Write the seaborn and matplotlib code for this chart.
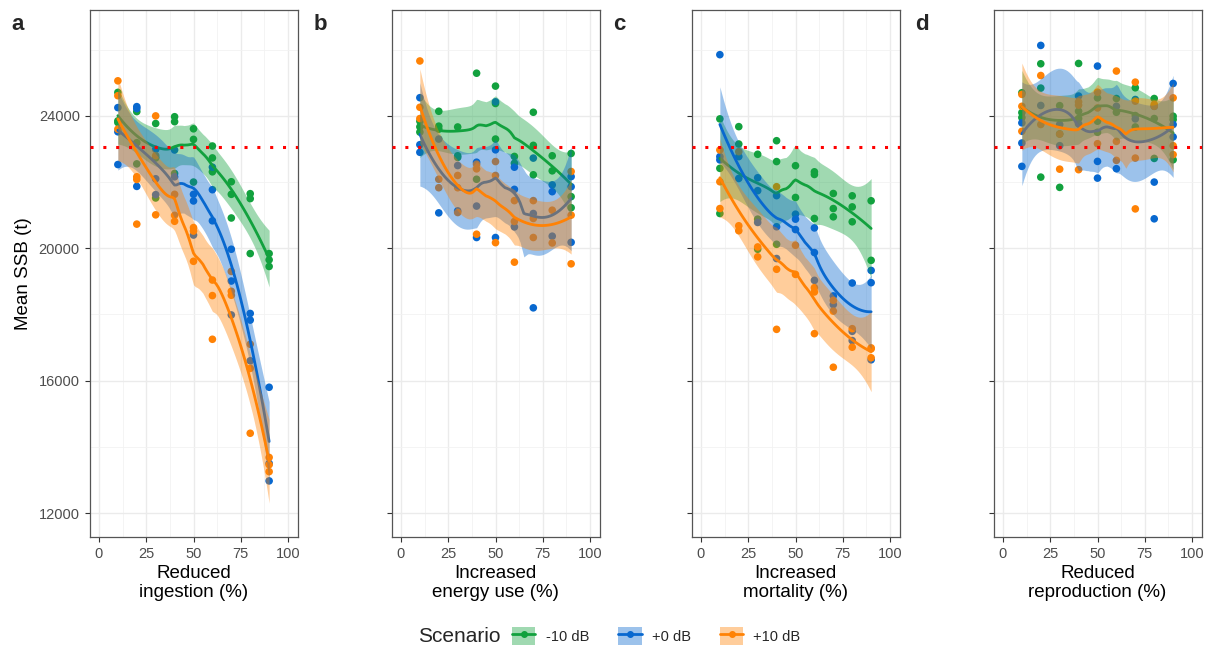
import numpy as np
import pandas as pd
import matplotlib
matplotlib.use("Agg")
import matplotlib.pyplot as plt
import seaborn as sns
from matplotlib.lines import Line2D
from matplotlib.patches import Patch

# 数据：每个面板 3 个情景，x = 10..90，每个 x 有若干重复
pct = [10, 20, 30, 40, 50, 60, 70, 80, 90]
scenarios = ["-10 dB", "+0 dB", "+10 dB"]
colors = ["#12A13E", "#0868CF", "#FF8205"]
ssb_ref = 23070

ing_m10 = [[24710, 23850, 23800], [24130, 23190, 22550], [23770, 22730, 21520], [23975, 23825, 22260],
           [23610, 23290, 22000], [23090, 22730, 22310], [22010, 21630, 20915], [21650, 21500, 19840],
           [19840, 19650, 19450]]
ing_p0 = [[24250, 23520, 22530], [24280, 24220, 21870], [22990, 22100, 21620], [22970, 22160],
          [21630, 21430, 20400], [22450, 21770, 20830], [19970, 19010, 17985], [18030, 17830, 16600],
          [15800, 13500, 12970]]
ing_p10 = [[25060, 24610, 23600], [22160, 22080, 20730], [24000, 22800, 21010], [21630, 20995, 20815],
           [20625, 20520, 19606], [19040, 18570, 17250], [19300, 18700, 18580], [17100, 16370, 14410],
           [13680, 13460, 13250]]

ene_m10 = [[23840, 23670, 23510], [24140, 23690, 23600], [23665, 22795, 22745], [25290, 22085],
           [24900, 24375, 23300], [22775, 22570], [24110, 23110, 22220], [22795, 22340],
           [22865, 21560, 21225]]
ene_p0 = [[24550, 23130, 22900], [23300, 21070], [22500, 21130], [22600, 21275, 20325],
          [24425, 22975, 20325], [22450, 21780, 20645], [22725, 21050, 18200], [21915, 21710, 20365],
          [22165, 21860, 20180]]
ene_p10 = [[25660, 24260, 23920], [22085, 21830], [22200, 21830, 21080], [22540, 22400, 20425],
           [22620, 22200, 20170], [21440, 20810, 19580], [21440, 20900, 20325], [21150, 20160],
           [22320, 21000, 19530]]

mor_m10 = [[23910, 22415, 21050], [23675, 23150], [22840, 20880, 19970], [23250, 22620, 20120],
           [22495, 21535], [22310, 22230, 20900], [21655, 21200, 20950], [21585, 21250, 20800],
           [21435, 19635]]
mor_p0 = [[25850, 22770, 22670], [22770, 22110], [22130, 21740, 20780], [21590, 20650, 19690],
          [21030, 20880, 20565], [20615, 19870, 19030], [18560, 18300], [18950, 17490, 17210],
          [19330, 18960, 16630]]
mor_p10 = [[22970, 22010, 21200], [22920, 20680, 20530], [20040, 19740], [21860, 19365, 17550],
           [20090, 19210], [18810, 18680, 17420], [18425, 18100, 16405], [17570, 17010],
           [16990, 16960, 16690]]

rep_m10 = [[24700, 24100, 23950], [25575, 24840, 22150], [24310, 23455, 21840], [25585, 24140, 23920],
           [24545, 23840, 23505], [24525, 24110], [24850, 24010, 23665], [24525, 23920, 22715],
           [23990, 23890, 22675]]
rep_p0 = [[23790, 23180, 22475], [26130, 24315], [23740, 23100], [24600, 23760],
          [25505, 22625, 22120], [24290, 22405], [24495, 23910], [24290, 22000, 20890],
          [24980, 23740, 23365]]
rep_p10 = [[24650, 24290, 23535], [25220, 23740], [22390, 23450], [24425, 24325, 22375],
           [24715, 24240, 23160], [25355, 23230, 22655], [25020, 24445, 22725, 21190], [24345, 24290],
           [24545, 23100, 22830]]

panels = [
    ("a", "Reduced\ningestion (%)", [ing_m10, ing_p0, ing_p10]),
    ("b", "Increased\nenergy use (%)", [ene_m10, ene_p0, ene_p10]),
    ("c", "Increased\nmortality (%)", [mor_m10, mor_p0, mor_p10]),
    ("d", "Reduced\nreproduction (%)", [rep_m10, rep_p0, rep_p10]),
]


def to_long(groups):
    rows = []
    for sc, grp in zip(scenarios, groups):
        for x, vals in zip(pct, grp):
            for v in vals:
                rows.append((sc, x, v))
    return pd.DataFrame(rows, columns=["scenario", "pct", "ssb"])


def loess(x, y, xs, span=0.75):
    # 局部二次回归 (类似 R loess)，返回拟合值和标准误
    x = np.asarray(x, float)
    y = np.asarray(y, float)
    n = len(x)
    q = int(np.floor(n * span))

    def smat(pts):
        L = np.zeros((len(pts), n))
        for i, x0 in enumerate(pts):
            d = np.abs(x - x0)
            h = np.sort(d)[q - 1] * 1.05
            w = np.clip(1 - (d / h) ** 3, 0, None) ** 3
            X = np.column_stack([np.ones(n), x - x0, (x - x0) ** 2])
            XtW = X.T * w
            L[i] = (np.linalg.pinv(XtW @ X) @ XtW)[0]
        return L

    Ld = smat(x)
    R = np.eye(n) - Ld
    d1 = np.trace(R.T @ R)
    sigma = np.sqrt(np.sum((R @ y) ** 2) / d1)
    Ls = smat(xs)
    return Ls @ y, sigma * np.sqrt(np.sum(Ls ** 2, axis=1))


sns.set_style("white")
plt.rcParams["font.family"] = ["Liberation Sans", "DejaVu Sans"]

fig = plt.figure(figsize=(12.11, 6.5), dpi=100)
lefts = [89.5, 391.5, 691.5, 993.5]
xs = np.linspace(10, 90, 81)

for k, (letter, xlabel, groups) in enumerate(panels):
    ax = fig.add_axes([lefts[k] / 1211, 1 - 537 / 650, 208 / 1211, 527 / 650])
    df = to_long(groups)

    sns.scatterplot(data=df, x="pct", y="ssb", hue="scenario", palette=colors,
                    hue_order=scenarios, s=30, linewidth=0, legend=False, ax=ax, zorder=2)

    for j, sc in enumerate(scenarios):
        sub = df[df["scenario"] == sc]
        fit, se = loess(sub["pct"], sub["ssb"], xs)
        ax.fill_between(xs, fit - 2.2 * se, fit + 2.2 * se, color=colors[j], alpha=0.4,
                        linewidth=0, zorder=3 + 2 * j)
        sm = pd.DataFrame({"pct": xs, "ssb": fit})
        sns.lineplot(data=sm, x="pct", y="ssb", color=colors[j], linewidth=2.0, ax=ax,
                     zorder=4 + 2 * j)

    ax.axhline(ssb_ref, color="#FF0000", linestyle=(0, (1, 3.2)), linewidth=2.2, zorder=10)

    ax.set_xlim(-5, 105)
    ax.set_ylim(11275, 27200)
    ax.set_xticks([0, 25, 50, 75, 100])
    ax.set_xticks([12.5, 37.5, 62.5, 87.5], minor=True)
    ax.set_yticks([12000, 16000, 20000, 24000])
    ax.set_yticks([14000, 18000, 22000, 26000], minor=True)
    ax.grid(which="major", color="#EBEBEB", linewidth=1.0, zorder=0)
    ax.grid(which="minor", color="#F2F2F2", linewidth=0.6, zorder=0)
    ax.set_axisbelow(True)
    ax.tick_params(which="major", length=3.5, width=0.8, color="#333333", labelcolor="#4D4D4D",
                   labelsize=10.5, left=True, bottom=True)
    ax.tick_params(which="minor", length=0)
    for s in ax.spines.values():
        s.set_color("#555555")
        s.set_linewidth(0.9)
    ax.set_xlabel(xlabel, fontsize=13.5, color="black", linespacing=1.2, labelpad=3)
    if k == 0:
        ax.set_ylabel("Mean SSB (t)", fontsize=13.5, color="black", labelpad=5)
    else:
        ax.set_ylabel("")
        ax.set_yticklabels([])
    fig.text((lefts[k] - 78) / 1211, 1 - 24 / 650, letter, fontsize=16, fontweight="bold",
             va="center", ha="left")

# 图例放在底部
fig.text(418 / 1211, 1 - 636 / 650, "Scenario", fontsize=15, va="center", ha="left")
handles = [(Patch(facecolor=c, alpha=0.4, edgecolor="none"),
            Line2D([0], [0], color=c, linewidth=2.0, marker="o", markersize=4))
           for c in colors]
fig.legend(handles, scenarios, loc="center left", bbox_to_anchor=(499 / 1211, 1 - 636 / 650),
           ncol=3, frameon=False, fontsize=10.5, handlelength=1.6, handleheight=1.6,
           columnspacing=2.0, handletextpad=0.7)

fig.savefig("out.png", dpi=100)
